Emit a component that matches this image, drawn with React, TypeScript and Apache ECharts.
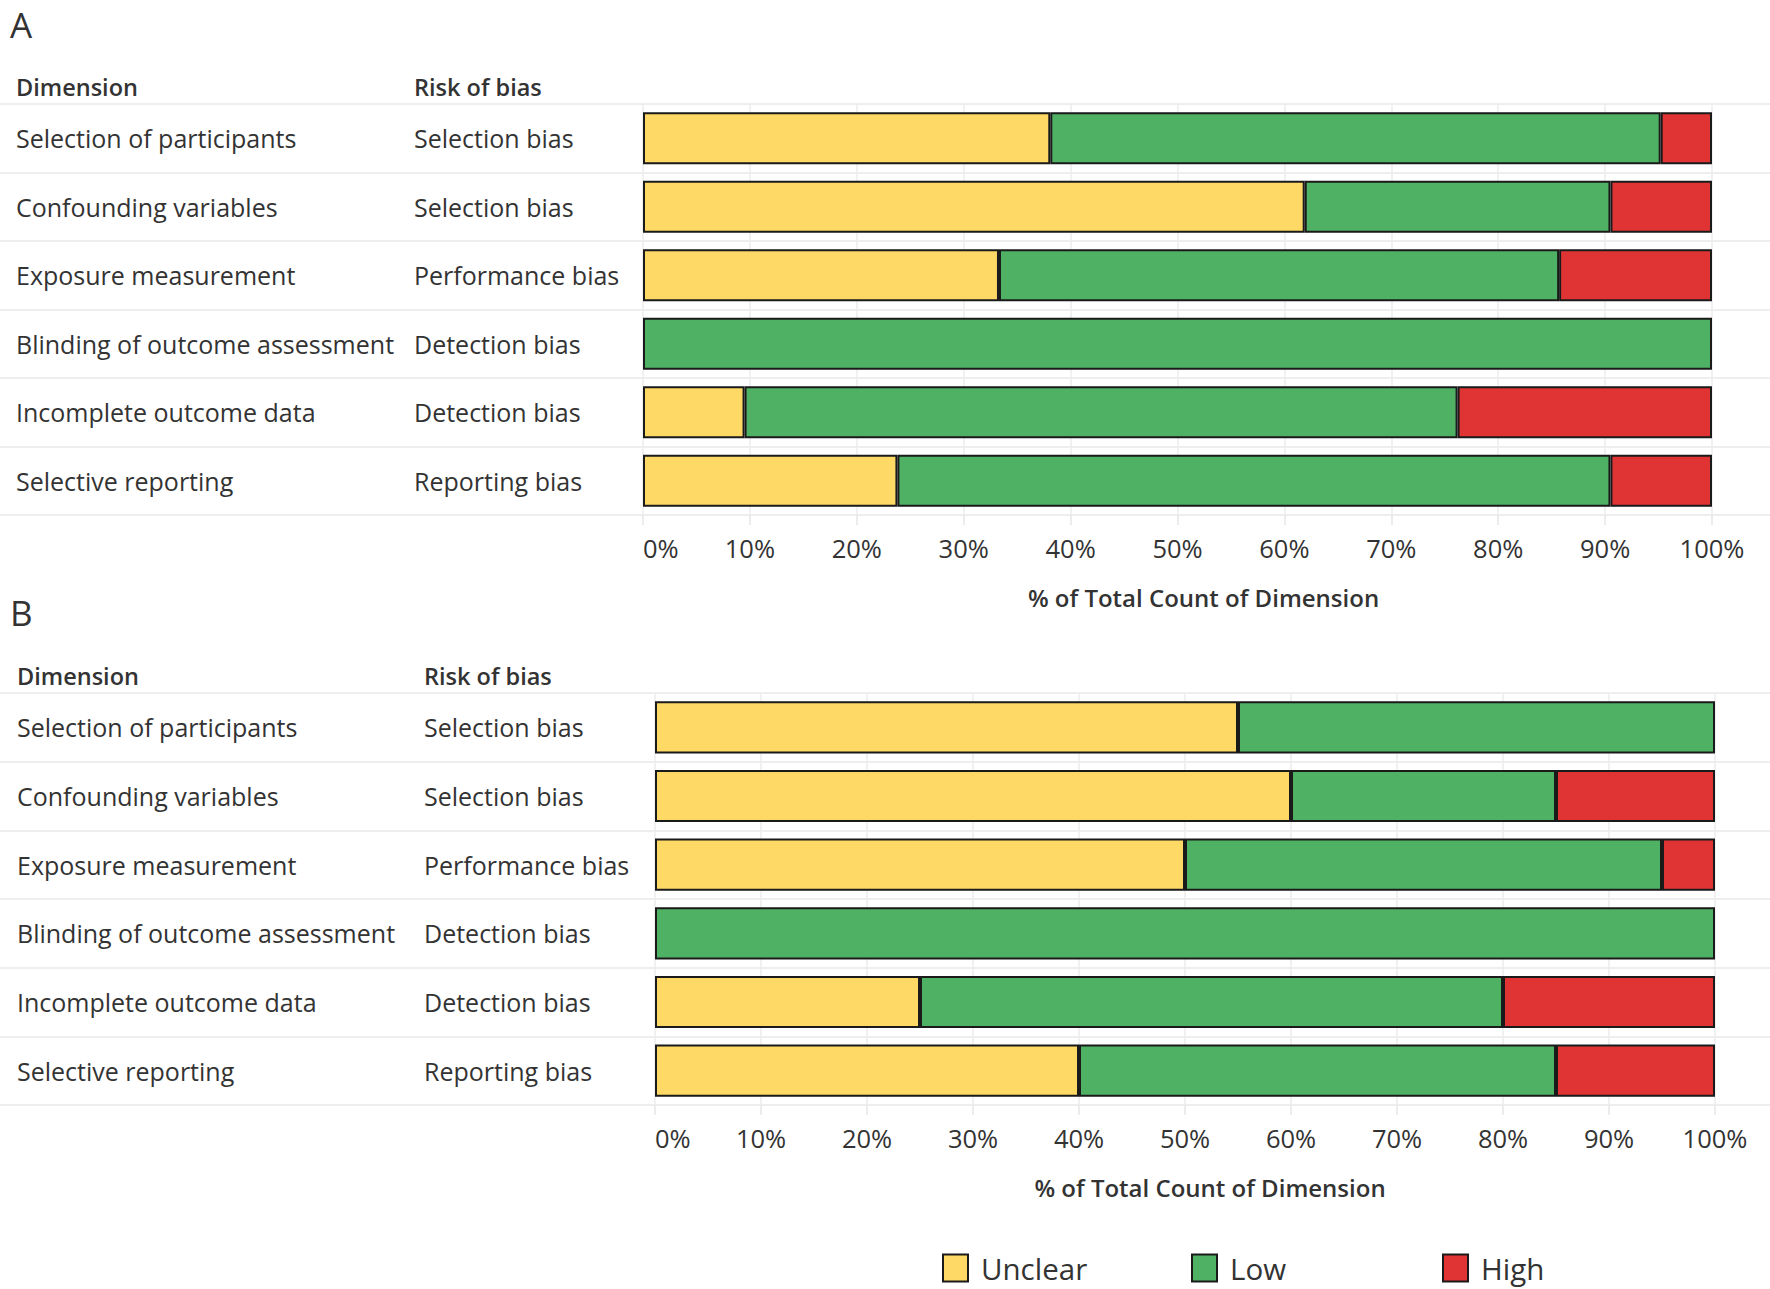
import React, { useEffect, useRef } from "react";
import * as echarts from "echarts";

const dimensions = [
  "Selection of participants",
  "Confounding variables",
  "Exposure measurement",
  "Blinding of outcome assessment",
  "Incomplete outcome data",
  "Selective reporting",
];
const riskOfBias = [
  "Selection bias",
  "Selection bias",
  "Performance bias",
  "Detection bias",
  "Detection bias",
  "Reporting bias",
];
const levels = ["Unclear", "Low", "High"];
const levelColors = ["#FED966", "#4FB163", "#E03434"];

// Panel A (% of total count)
const unclearA = [38.1, 61.9, 33.3, 0, 9.5, 23.8];
const lowA = [57.1, 28.6, 52.4, 100, 66.7, 66.7];
const highA = [4.8, 9.5, 14.3, 0, 23.8, 9.5];
// Panel B (% of total count)
const unclearB = [55, 60, 50, 0, 25, 40];
const lowB = [45, 25, 45, 100, 55, 45];
const highB = [0, 15, 5, 0, 20, 15];

const xTicks = [0, 10, 20, 30, 40, 50, 60, 70, 80, 90, 100];

const FONT = "Open Sans";
const TEXT = "#333333";

export default function App() {
  const ref = useRef<HTMLDivElement>(null);
  useEffect(() => {
    if (!ref.current) return;
    const chart = echarts.init(ref.current, null, { renderer: "svg" });

    const panels = [
      { key: "A", top: 104, height: 411, plotLeft: 643, plotWidth: 1069, dimX: 16, riskX: 414, headerY: 87, letterY: 24, titleShift: 52, data: [unclearA, lowA, highA] },
      { key: "B", top: 693, height: 412, plotLeft: 655, plotWidth: 1060, dimX: 17, riskX: 424, headerY: 676, letterY: 612, titleShift: 50, data: [unclearB, lowB, highB] },
    ];

    const grid: any[] = [];
    const xAxis: any[] = [];
    const yAxis: any[] = [];
    const series: any[] = [];
    const graphic: any[] = [];

    panels.forEach((p, pi) => {
      const base = pi * 3;
      grid.push({ left: 0, width: 1770, top: p.top, height: p.height, containLabel: false });
      grid.push({ left: p.riskX, width: 200, top: p.top, height: p.height, containLabel: false });
      grid.push({ left: p.plotLeft, width: p.plotWidth, top: p.top, height: p.height, containLabel: false });

      xAxis.push({ type: "value", gridIndex: base, show: false, min: 0, max: 100 });
      xAxis.push({ type: "value", gridIndex: base + 1, show: false, min: 0, max: 100 });
      xAxis.push({
        type: "value",
        gridIndex: base + 2,
        min: 0,
        max: 100,
        interval: 10,
        axisLine: { show: false },
        axisTick: { show: true, length: 10, lineStyle: { color: "#E6E6E6", width: 1.5 } },
        splitLine: { show: true, lineStyle: { color: "#EDEDED", width: 1.5 } },
        axisLabel: {
          formatter: (v: number) => (xTicks.includes(v) ? v + "%" : ""),
          color: TEXT,
          fontFamily: FONT,
          fontSize: 25.5,
          margin: 20,
          alignMinLabel: "left",
        },
        name: "% of Total Count of Dimension",
        nameLocation: "middle",
        nameGap: 70,
        nameTextStyle: { color: TEXT, fontFamily: FONT, fontSize: 24, fontWeight: 600, padding: [0, 0, 0, p.titleShift] },
      });

      yAxis.push({
        type: "category",
        gridIndex: base,
        data: dimensions,
        inverse: true,
        axisLine: { show: false },
        axisTick: { show: false },
        splitLine: { show: true, interval: 0, lineStyle: { color: "#E8E8E8", width: 1.5 } },
        axisLabel: { inside: true, margin: p.dimX, align: "left", color: TEXT, fontFamily: FONT, fontSize: 25, interval: 0 },
      });
      yAxis.push({
        type: "category",
        gridIndex: base + 1,
        data: dimensions.map((d, i) => d + "|" + i),
        inverse: true,
        axisLine: { show: false },
        axisTick: { show: false },
        axisLabel: {
          inside: true,
          margin: 0,
          align: "left",
          color: TEXT,
          fontFamily: FONT,
          fontSize: 25,
          interval: 0,
          formatter: (_v: string, idx: number) => riskOfBias[idx],
        },
      });
      yAxis.push({
        type: "category",
        gridIndex: base + 2,
        data: dimensions,
        inverse: true,
        show: false,
      });

      levels.forEach((lv, li) => {
        series.push({
          type: "bar",
          name: lv,
          xAxisIndex: base + 2,
          yAxisIndex: base + 2,
          stack: "s" + p.key,
          barWidth: "76%",
          data: p.data[li].map((v) => (v === 0 ? "-" : v)),
          itemStyle: { color: levelColors[li], borderColor: "#1a1a1a", borderWidth: 2 },
          emphasis: { disabled: true },
        });
      });

      graphic.push({
        type: "text",
        x: 10,
        y: p.letterY,
        style: { text: p.key, fontFamily: FONT, fontSize: 35, lineHeight: 35, fill: TEXT, verticalAlign: "middle" },
      });
      graphic.push({
        type: "text",
        x: p.dimX,
        y: p.headerY,
        style: { text: "Dimension", fontFamily: FONT, fontSize: 23.5, fontWeight: 600, fill: TEXT, verticalAlign: "middle" },
      });
      graphic.push({
        type: "text",
        x: p.riskX,
        y: p.headerY,
        style: { text: "Risk of bias", fontFamily: FONT, fontSize: 23.5, fontWeight: 600, fill: TEXT, verticalAlign: "middle" },
      });
    });

    const legendX = [937, 1186, 1437];
    const legend = levels.map((lv, i) => ({
      data: [lv],
      left: legendX[i],
      top: 1248,
      icon: "rect",
      itemWidth: 25,
      itemHeight: 27,
      selectedMode: false,
      textStyle: { color: TEXT, fontFamily: FONT, fontSize: 29.5, lineHeight: 30, padding: [0, 0, 0, 8] },
    }));

    chart.setOption({
      animation: false,
      backgroundColor: "#ffffff",
      textStyle: { fontFamily: FONT },
      grid,
      xAxis,
      yAxis,
      series,
      legend,
      graphic,
    });
    return () => chart.dispose();
  }, []);

  return (
    <div
      ref={ref}
      style={{ position: "absolute", left: 0, top: 0, width: 1770, height: 1289 }}
    />
  );
}
